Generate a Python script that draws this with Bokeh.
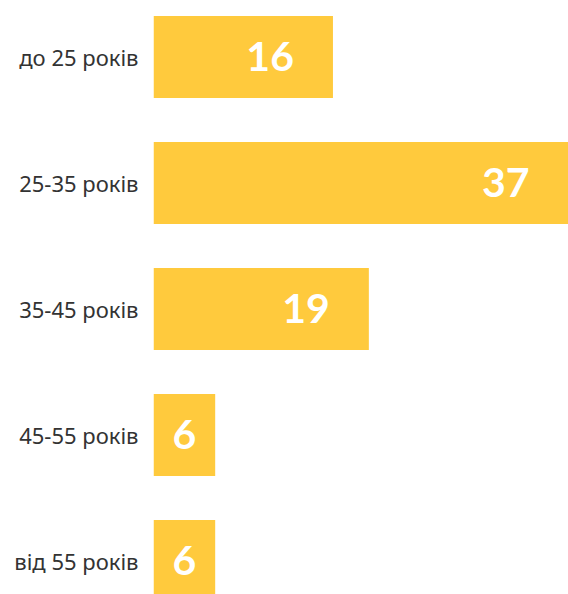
from bokeh.plotting import figure
from bokeh.models import ColumnDataSource, Range1d, FixedTicker
from bokeh.core.properties import value
from bokeh.embed import file_html
from bokeh.resources import INLINE

categories = ["до 25 років", "25-35 років", "35-45 років", "45-55 років", "від 55 років"]
values = [16, 37, 19.2, 5.5, 5.5]
value_labels = ["16", "37", "19", "6", "6"]

pos = list(range(len(categories)))
label_x = [max(v - 5.6, v / 2) for v in values]

src = ColumnDataSource(dict(y=pos, v=values, lx=label_x, t=value_labels))

p = figure(width=568, height=594, output_backend="svg", toolbar_location=None,
           x_range=Range1d(0, 37), y_range=Range1d(4.266, -0.448),
           min_border_left=153, min_border_right=0, min_border_top=0, min_border_bottom=0)

p.hbar(y="y", left=0, right="v", height=0.65, source=src, color="#FFCA3D", line_color=None)
p.text(x="lx", y="y", text="t", source=src, text_color="white", text_align="center",
       text_baseline="middle", text_font=value("Lato"), text_font_style="bold",
       text_font_size="41px")

p.xaxis.visible = False
p.xgrid.visible = False
p.ygrid.visible = False
p.outline_line_color = None

ax = p.yaxis[0]
ax.ticker = FixedTicker(ticks=pos)
ax.major_label_overrides = {i: c for i, c in enumerate(categories)}
ax.axis_line_color = None
ax.major_tick_line_color = None
ax.minor_tick_line_color = None
ax.major_tick_out = 0
ax.major_tick_in = 0
ax.major_label_standoff = 15
ax.major_label_text_font = "Noto Sans"
ax.major_label_text_font_size = "22px"
ax.major_label_text_color = "#333333"

open("out.html", "w").write(file_html(p, INLINE))
